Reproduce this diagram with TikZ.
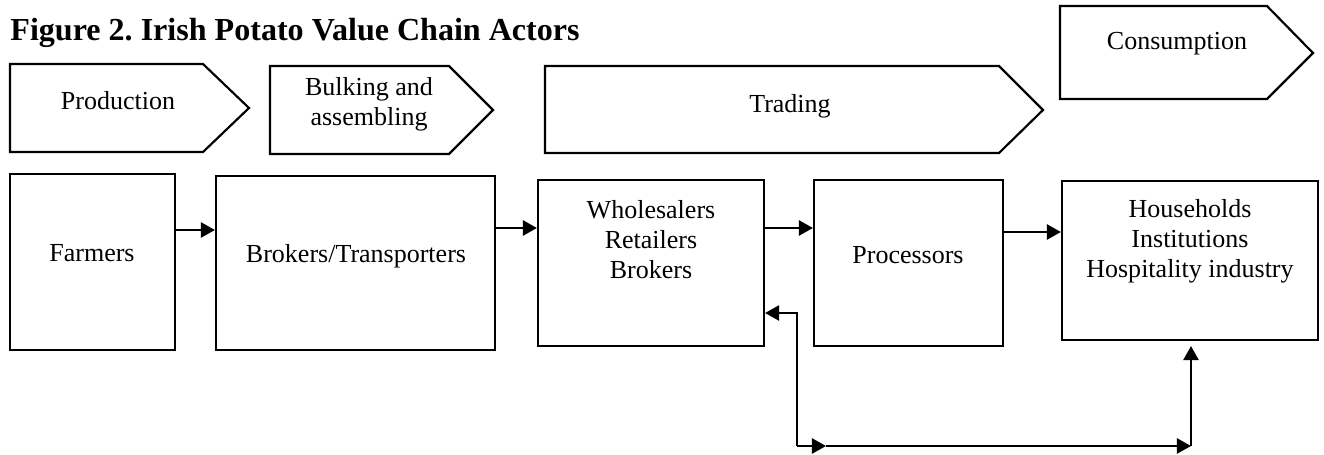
\documentclass[tikz,border=0pt]{standalone}
\usepackage{fontspec}
\setmainfont{Liberation Serif}
\usetikzlibrary{arrows.meta,positioning,fit}

\tikzset{
  phase/.style={draw,line width=1pt,line join=miter},
  actor/.style={draw,line width=1pt,inner sep=0pt},
  txt/.style={font=\fontsize{12pt}{13.8pt}\selectfont,align=center,anchor=base,inner sep=0pt},
  flow/.style={line width=1pt,-{Triangle[length=6.5pt,width=7pt]}}
}

\begin{document}
\begin{tikzpicture}[x=0.4615pt,y=-0.4615pt]
\useasboundingbox (0,0) rectangle (1324,455);

% title
\node[anchor=base west,inner sep=0pt,font=\fontsize{14.8pt}{17pt}\selectfont\bfseries] (title) at (10,40) {Figure 2.\ Irish Potato Value Chain Actors};

% stages
\draw[phase] (10,64) -- (203,64) -- (249,108) -- (203,152) -- (10,152) -- cycle;
\draw[phase] (270,66) -- (449,66) -- (493,110) -- (449,154) -- (270,154) -- cycle;
\draw[phase] (545,66) -- (999,66) -- (1043,110) -- (999,153) -- (545,153) -- cycle;
\draw[phase] (1060,6) -- (1267,6) -- (1313,53) -- (1267,99) -- (1060,99) -- cycle;
\node[txt] (prod) at (118,109) {Production};
% base of a two-line node sits on its last line
\node[txt] (bulk) at (369,125) {Bulking and\\assembling};
\node[txt] (trade) at (790,112) {Trading};
\node[txt] (consume) at (1177,49) {Consumption};

% actors
\node[actor,fit={(10,174)(175,350)}] (farmers) {};
\node[actor,fit={(216,176)(495,350)}] (brokers) {};
\node[actor,fit={(538,180)(764,346)}] (traders) {};
\node[actor,fit={(814,180)(1003,346)}] (processors) {};
\node[actor,fit={(1062,181)(1318,340)}] (consumers) {};
\node[txt] (farmersTxt) at (92,261) {Farmers};
\node[txt] (brokersTxt) at (356,262) {Brokers/Transporters};
\node[txt] (tradersTxt) at (651,278) {Wholesalers\\Retailers\\Brokers};
\node[txt] (processorsTxt) at (908,263) {Processors};
\node[txt] (consumersTxt) at (1190,277) {Households\\Institutions\\Hospitality industry};

% flows
\coordinate (row1) at (0,230);
\coordinate (row2) at (0,228);
\coordinate (row3) at (0,232);
\coordinate (backRow) at (0,313);
\draw[flow] (farmers.east |- row1) -- (brokers.west |- row1);
\draw[flow] (brokers.east |- row2) -- (traders.west |- row2);
\draw[flow] (traders.east |- row2) -- (processors.west |- row2);
\draw[flow] (processors.east |- row3) -- (consumers.west |- row3);

% loop back under the boxes
\coordinate (loopL) at (797,446);
\coordinate (loopM) at (826,446);
\coordinate (loopR) at (1191,446);
\draw[flow] (loopL) |- (traders.east |- backRow);
\draw[flow] (loopL) -- (loopM);
\draw[flow] (loopM) -- (loopR);
\draw[flow,shorten >=2.3pt] (loopR) -- (loopR |- consumers.south);
\end{tikzpicture}
\end{document}
